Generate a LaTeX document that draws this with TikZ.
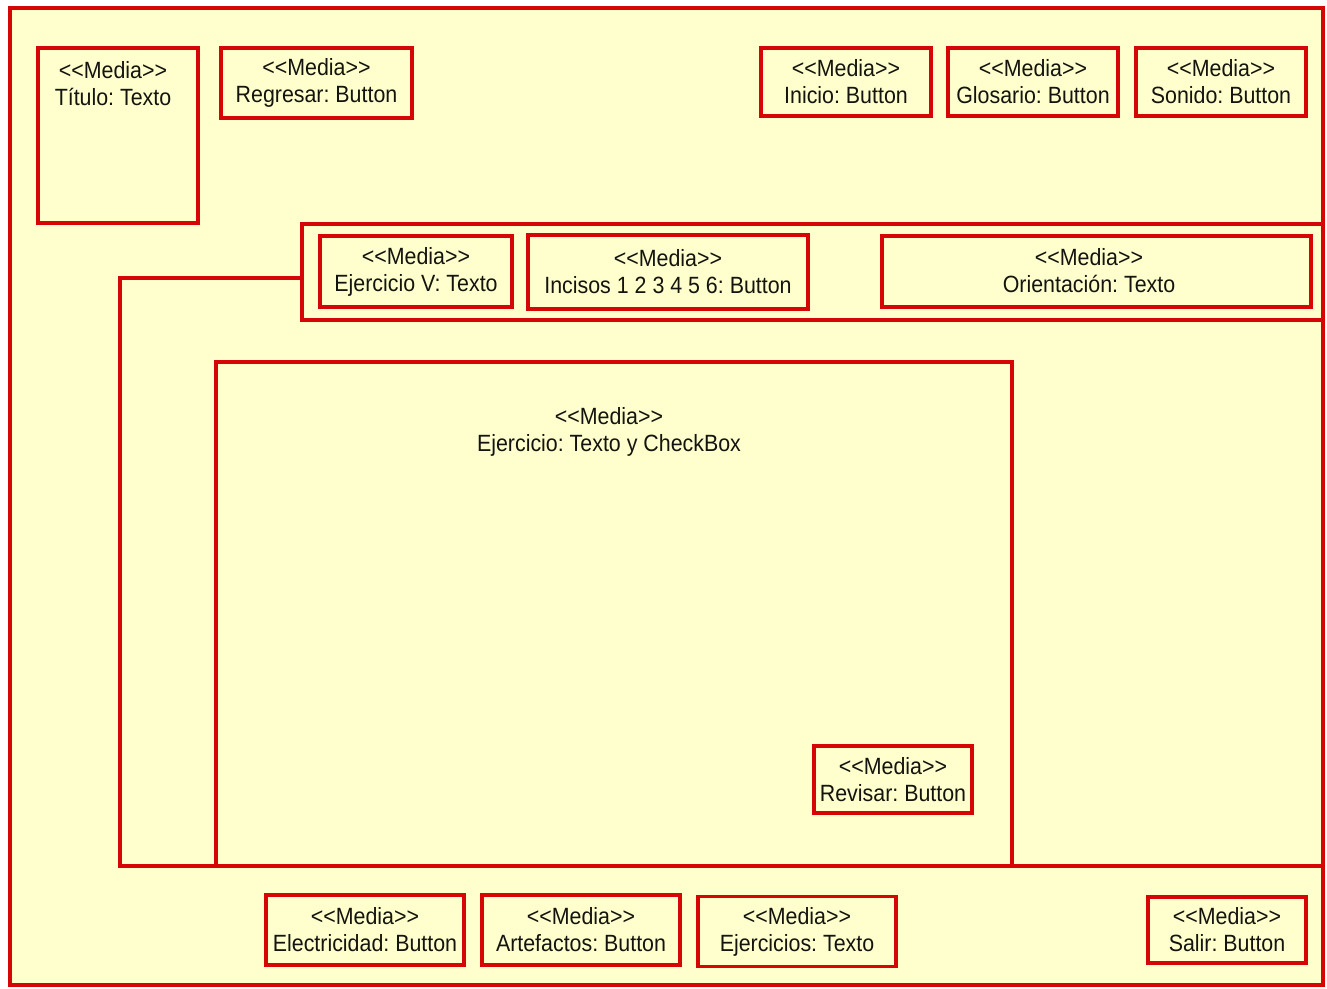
\documentclass[tikz,border=0pt]{standalone}
\usepackage{fontspec}
\setmainfont{Liberation Sans}[FakeStretch=0.91]
\definecolor{umlred}{RGB}{215,6,6}
\definecolor{paper}{RGB}{255,255,206}
\definecolor{ink}{RGB}{20,20,14}
\newcommand\mediafont{\frenchspacing\fontsize{23.5}{27}\selectfont}
% stereotype written with separated angle brackets
\newcommand\media{<{}<Media>{}>}
\begin{document}
\begin{tikzpicture}[x=1pt,y=-1pt,
  frame/.style={draw=umlred,line width=3.2pt,fill=paper,inner sep=0pt},
  mbox/.style={draw=umlred,line width=3.2pt,fill=paper,align=center,
               inner sep=0pt,text=ink,font=\mediafont},
  label/.style={align=center,inner sep=0pt,text=ink,font=\mediafont},
  wire/.style={draw=umlred,line width=3.2pt}]
\useasboundingbox[fill=white] (0,0) rectangle (1327,988);

% screen frame
\node[frame,minimum width=1313,minimum height=977] (screen) at (666.5,496.5) {};

% header
\node[mbox,minimum width=160,minimum height=175] (titulo) at (118,135.5) {};
\node[label] (titulotxt) at (113,84) {\media\\Título: Texto};
\node[mbox,minimum width=191,minimum height=70] (regresar) at (316.5,83) {\media\\Regresar: Button};
\node[mbox,minimum width=170,minimum height=68] (inicio) at (846,82) {\media\\Inicio: Button};
\node[mbox,minimum width=170,minimum height=68] (glosario) at (1033,82) {\media\\Glosario: Button};
\node[mbox,minimum width=170,minimum height=68] (sonido) at (1221,82) {\media\\Sonido: Button};

% exercise strip
\node[frame,minimum width=1021,minimum height=96] (strip) at (812.5,272) {};
\node[mbox,minimum width=192,minimum height=71] (ejv) at (416,271.5) {\media\\Ejercicio V: Texto};
\node[mbox,minimum width=280,minimum height=74] (incisos) at (668,272) {\media\\Incisos 1 2 3 4 5 6: Button};
\node[mbox,minimum width=429,minimum height=71] (orient) at (1096.5,271.5) {};
\node[label] (orienttxt) at (1089,271) {\media\\Orientación: Texto};

% working area outline
\coordinate (lcorner) at (120,866);
\draw[wire] ([yshift=-6pt]strip.west) -| (lcorner) -- (lcorner -| screen.east);

% exercise area
\node[mbox,minimum width=796,minimum height=504] (work) at (614,614) {};
\node[label] (worktxt) at (609,432) {\media\\Ejercicio: Texto y CheckBox};
\node[mbox,minimum width=158,minimum height=67] (revisar) at (893,779.5) {\media\\Revisar: Button};

% footer
\node[mbox,minimum width=198,minimum height=70] (elec) at (365,930) {\media\\Electricidad: Button};
\node[mbox,minimum width=198,minimum height=70] (artef) at (581,930) {\media\\Artefactos: Button};
\node[mbox,minimum width=198,minimum height=70] (ejercicios) at (797,931.5) {\media\\Ejercicios: Texto};
\node[mbox,minimum width=158,minimum height=66] (salir) at (1227,930) {\media\\Salir: Button};
\end{tikzpicture}
\end{document}
